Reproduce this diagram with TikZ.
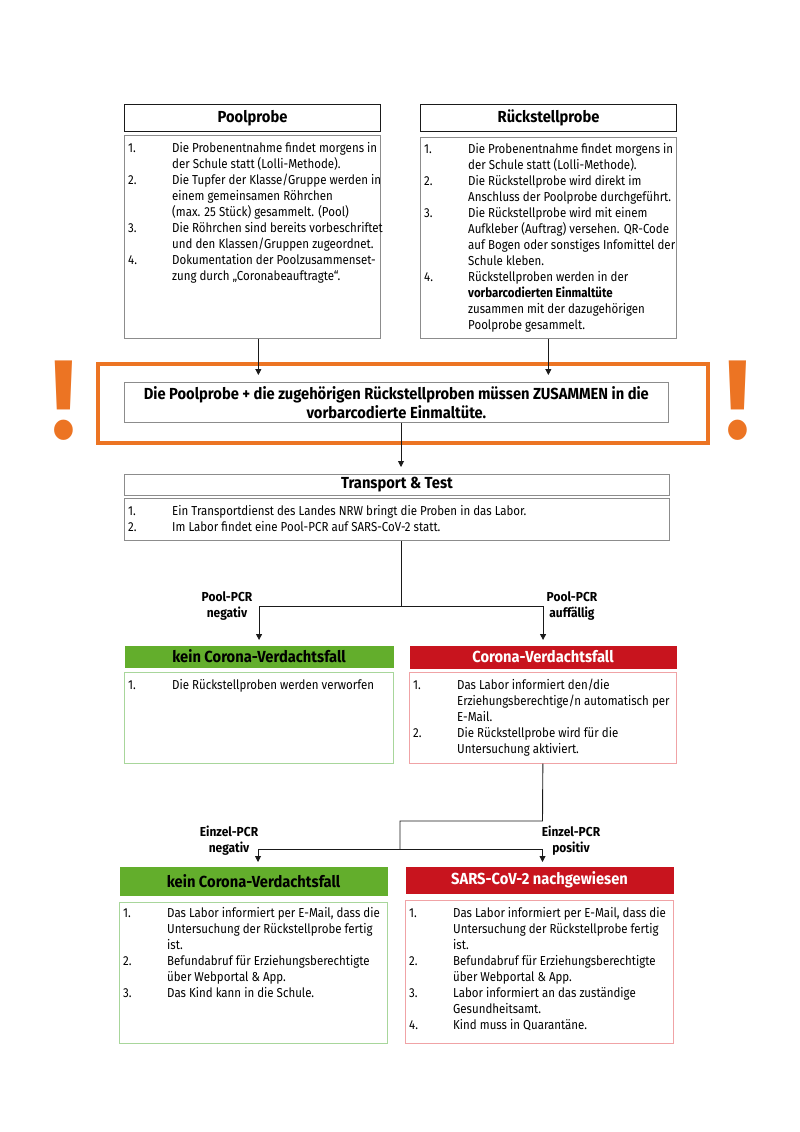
\documentclass[tikz,border=0pt]{standalone}
\usepackage{fontspec}
\setmainfont[FakeStretch=0.92]{Fira Sans}
\newfontfamily\schmal[FakeStretch=0.885]{Fira Sans}
\usetikzlibrary{positioning,arrows.meta,calc}
\definecolor{ink}{HTML}{1A1A1A}
\definecolor{rahmen}{HTML}{8C8C8C}
\definecolor{warnorange}{HTML}{EC7423}
\definecolor{ampelgruen}{HTML}{63AE2C}
\definecolor{ampelrot}{HTML}{C8141E}
\definecolor{gruenrand}{HTML}{A8D69B}
\definecolor{rotrand}{HTML}{F0A3A6}
\newcommand{\pkt}[1]{\makebox[44pt][l]{#1}}
\tikzset{
  kopf/.style={draw=ink,line width=1.1pt,font=\fontsize{16}{18}\selectfont\bfseries,anchor=north west,inner sep=0pt,minimum width=256pt,minimum height=27pt},
  inhalt/.style={draw=rahmen,line width=0.7pt,anchor=north west,inner sep=0pt},
  liste/.style={anchor=north west,inner sep=0pt,font=\schmal\fontsize{13}{16}\selectfont,align=left},
  pfeil/.style={-{Triangle[length=6pt,width=6pt]},line width=0.9pt,draw=ink},
  linie/.style={line width=0.9pt,draw=ink},
  etikett/.style={font=\fontsize{13}{16}\selectfont\bfseries,align=center},
  ausruf/.style={text=warnorange,font=\fontsize{112}{112}\selectfont\bfseries,inner sep=0pt},
}
\begin{document}
\begin{tikzpicture}[x=1pt,y=-1pt]
  \useasboundingbox (0,0) rectangle (800,1132);
  % Probenahme
  \node[kopf] (poolT) at (124,104) {Poolprobe};
  \node[inhalt,minimum width=256pt,minimum height=203pt] (poolB) at (124,135) {};
  \node[liste] (poolL) at ([xshift=4pt,yshift=-7pt]poolB.north west) {%
    \pkt{1.}Die Probenentnahme findet morgens in\\
    \pkt{}der Schule statt (Lolli-Methode).\\
    \pkt{2.}Die Tupfer der Klasse/Gruppe werden in\\
    \pkt{}einem gemeinsamen Röhrchen\\
    \pkt{}(max. 25 Stück) gesammelt. (Pool)\\
    \pkt{3.}Die Röhrchen sind bereits vorbeschriftet\\
    \pkt{}und den Klassen/Gruppen zugeordnet.\\
    \pkt{4.}Dokumentation der Poolzusammenset-\\
    \pkt{}zung durch „Coronabeauftragte“.};
  \node[kopf] (rueckT) at (420,104) {Rückstellprobe};
  \node[inhalt,minimum width=256pt,minimum height=201pt] (rueckB) at (420,137) {};
  \node[liste] (rueckL) at ([xshift=4pt,yshift=-6pt]rueckB.north west) {%
    \pkt{1.}Die Probenentnahme findet morgens in\\
    \pkt{}der Schule statt (Lolli-Methode).\\
    \pkt{2.}Die Rückstellprobe wird direkt im\\
    \pkt{}Anschluss der Poolprobe durchgeführt.\\
    \pkt{3.}Die Rückstellprobe wird mit einem\\
    \pkt{}Aufkleber (Auftrag) versehen. QR-Code\\
    \pkt{}auf Bogen oder sonstiges Infomittel der\\
    \pkt{}Schule kleben.\\
    \pkt{4.}Rückstellproben werden in der\\
    \pkt{}\textbf{vorbarcodierten Einmaltüte}\\
    \pkt{}zusammen mit der dazugehörigen\\
    \pkt{}Poolprobe gesammelt.};
  % Hinweis
  \node[draw=warnorange,line width=3.5pt,minimum width=610pt,minimum height=79pt,anchor=north west] (warn) at (96,362) {};
  \node[inhalt,minimum width=544pt,minimum height=40pt,align=center,font=\fontsize{16}{19}\selectfont\bfseries] (hinweis) at (124,382)
    {Die Poolprobe + die zugehörigen Rückstellproben müssen ZUSAMMEN in die\\vorbarcodierte Einmaltüte.};
  \node[ausruf] (ausrufL) at (64,401) {!};
  \node[ausruf] (ausrufR) at (738,401) {!};
  % Transport
  \node[kopf,draw=rahmen,line width=0.8pt,minimum width=545pt,minimum height=21pt] (transT) at (124,474) {Transport \& Test};
  \node[inhalt,minimum width=545pt,minimum height=42pt] (transB) at (124,498) {};
  \node[liste] (transL) at ([xshift=4pt,yshift=-7pt]transB.north west) {%
    \pkt{1.}Ein Transportdienst des Landes NRW bringt die Proben in das Labor.\\
    \pkt{2.}Im Labor findet eine Pool-PCR auf SARS-CoV-2 statt.};
  % Pool-PCR Ergebnis
  \node[kopf,draw=none,fill=ampelgruen,minimum width=269pt,minimum height=22pt] (gruen1T) at (124,645) {kein Corona-Verdachtsfall};
  \node[inhalt,draw=gruenrand,minimum width=269pt,minimum height=91pt] (gruen1B) at (124,672) {};
  \node[liste] (gruen1L) at ([xshift=4pt,yshift=-7pt]gruen1B.north west) {%
    \pkt{1.}Die Rückstellproben werden verworfen};
  \node[kopf,draw=none,fill=ampelrot,text=white,minimum width=267pt,minimum height=23pt] (rot1T) at (409,645) {Corona-Verdachtsfall};
  \node[inhalt,draw=rotrand,minimum width=267pt,minimum height=91pt] (rot1B) at (409,672) {};
  \node[liste] (rot1L) at ([xshift=4pt,yshift=-7pt]rot1B.north west) {%
    \pkt{1.}Das Labor informiert den/die\\
    \pkt{}Erziehungsberechtige/n automatisch per\\
    \pkt{}E-Mail.\\
    \pkt{2.}Die Rückstellprobe wird für die\\
    \pkt{}Untersuchung aktiviert.};
  % Einzel-PCR Ergebnis
  \node[kopf,draw=none,fill=ampelgruen,minimum width=268pt,minimum height=29pt] (gruen2T) at (119,866) {kein Corona-Verdachtsfall};
  \node[inhalt,draw=gruenrand,minimum width=268pt,minimum height=141pt] (gruen2B) at (119,902) {};
  \node[liste] (gruen2L) at ([xshift=4pt,yshift=-5pt]gruen2B.north west) {%
    \pkt{1.}Das Labor informiert per E-Mail, dass die\\
    \pkt{}Untersuchung der Rückstellprobe fertig\\
    \pkt{}ist.\\
    \pkt{2.}Befundabruf für Erziehungsberechtigte\\
    \pkt{}über Webportal \& App.\\
    \pkt{3.}Das Kind kann in die Schule.};
  \node[kopf,draw=none,fill=ampelrot,text=white,minimum width=268pt,minimum height=27pt] (rot2T) at (405,866) {SARS-CoV-2 nachgewiesen};
  \node[inhalt,draw=rotrand,minimum width=268pt,minimum height=143pt] (rot2B) at (405,900) {};
  \node[liste] (rot2L) at ([xshift=4pt,yshift=-7pt]rot2B.north west) {%
    \pkt{1.}Das Labor informiert per E-Mail, dass die\\
    \pkt{}Untersuchung der Rückstellprobe fertig\\
    \pkt{}ist.\\
    \pkt{2.}Befundabruf für Erziehungsberechtigte\\
    \pkt{}über Webportal \& App.\\
    \pkt{3.}Labor informiert an das zuständige\\
    \pkt{}Gesundheitsamt.\\
    \pkt{4.}Kind muss in Quarantäne.};
  % Verzweigungen
  \node[etikett] (poolNeg) at (227,606) {Pool-PCR\\negativ};
  \node[etikett] (poolAuf) at (572,606) {Pool-PCR\\auffällig};
  \node[etikett] (einzelNeg) at (229,841) {Einzel-PCR\\negativ};
  \node[etikett] (einzelPos) at (571,841) {Einzel-PCR\\positiv};
  \coordinate (achse) at (401,0);
  \coordinate (poolAus) at ([xshift=6pt]poolB.south);
  \coordinate (gabel1) at (401,606);
  \coordinate (knick) at (542.5,821);
  \coordinate (gabel2) at (400,849);
  \coordinate (zielNeg) at (258,862);
  \coordinate (zielPos) at (542.5,862);
  \draw[pfeil,shorten >=7pt] (poolAus) -- (poolAus |- hinweis.north);
  \draw[pfeil,shorten >=7pt] (rueckB.south) -- (rueckB.south |- hinweis.north);
  \draw[pfeil,shorten >=7pt] (achse |- hinweis.south) -- (achse |- transT.north);
  \draw[linie] (achse |- transB.south) -- (gabel1);
  \draw[pfeil,shorten >=5pt] (gabel1) -| (gruen1T.north);
  \draw[pfeil,shorten >=5pt] (gabel1) -| (rot1T.north);
  \draw[linie] (rot1B.south) -- (knick) -| (gabel2);
  \draw[pfeil] (gabel2) -| (zielNeg);
  \draw[pfeil] (gabel2) -| (zielPos);
\end{tikzpicture}
\end{document}
